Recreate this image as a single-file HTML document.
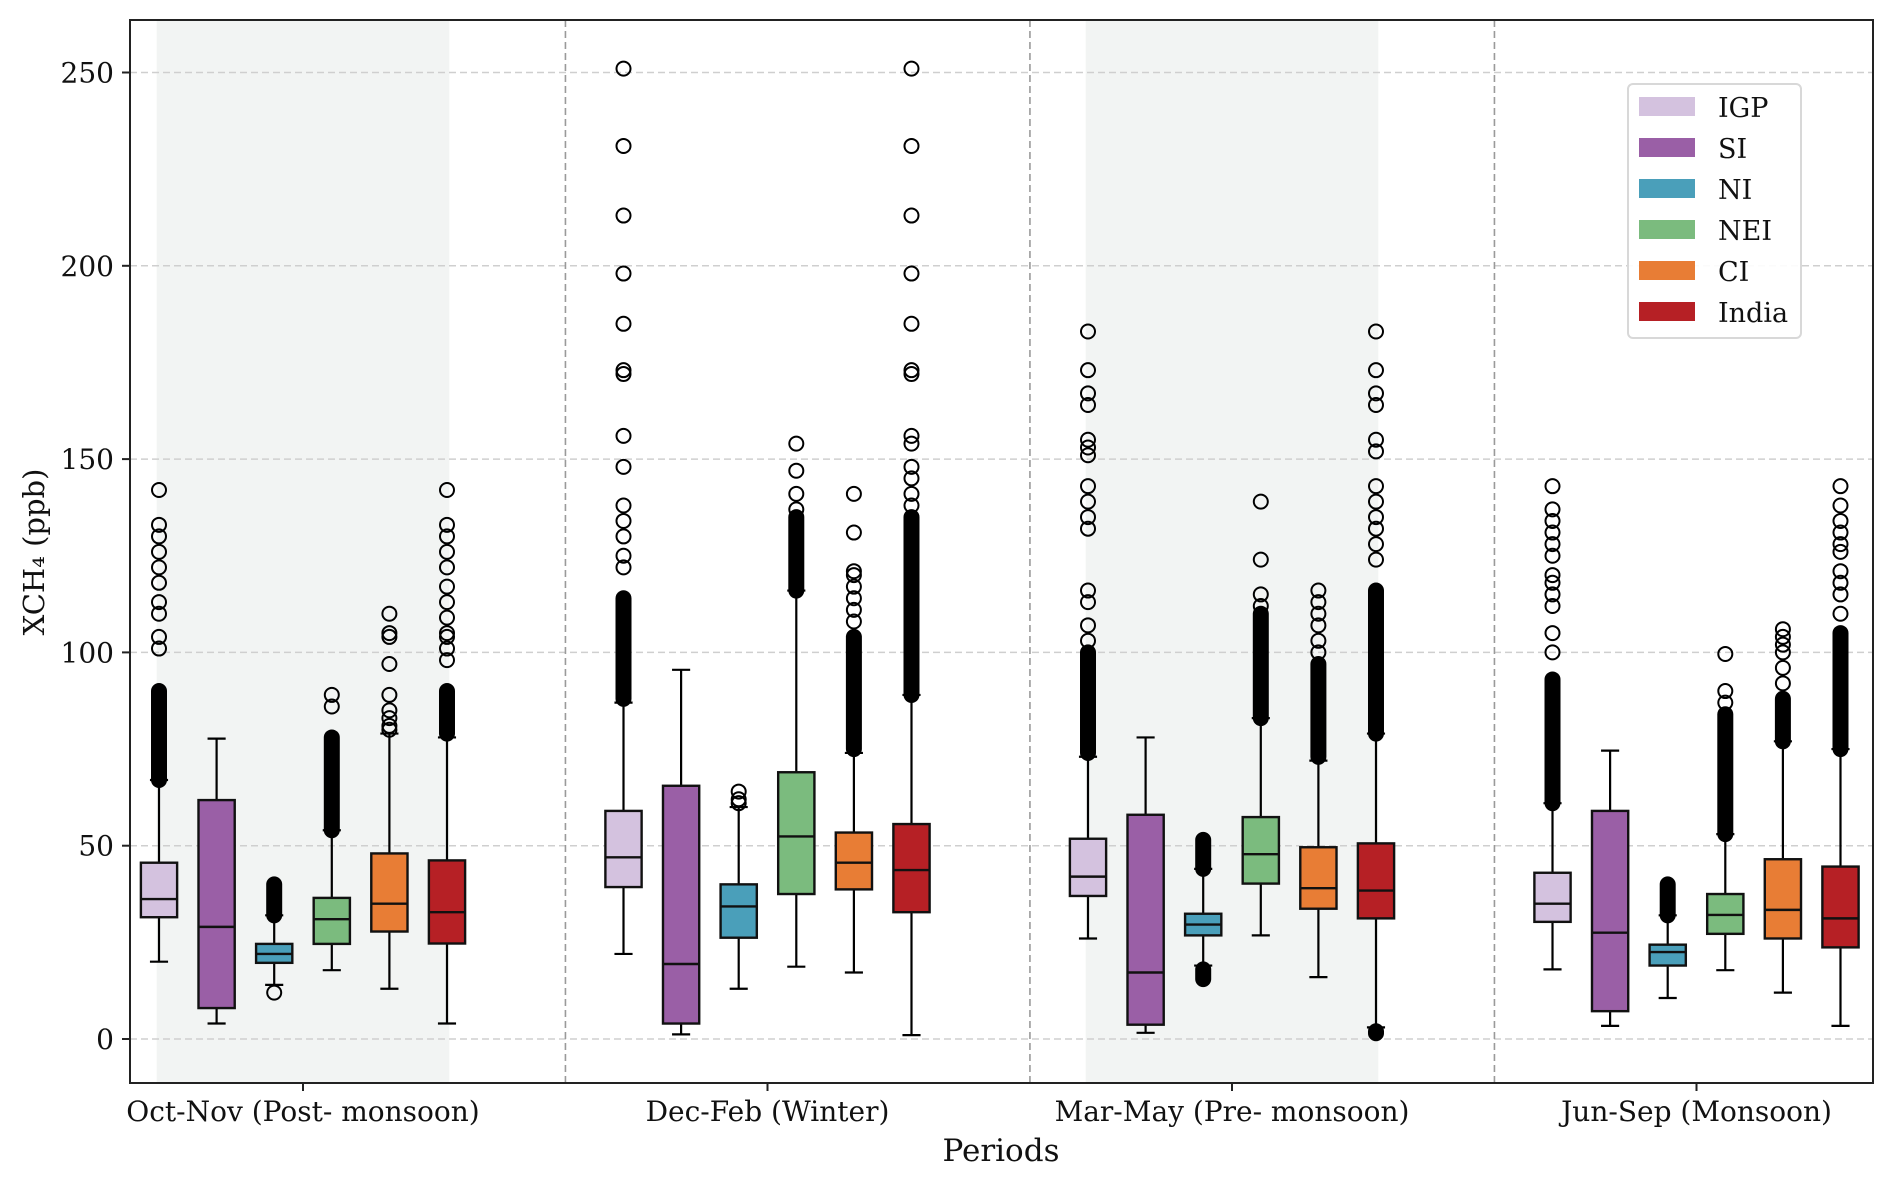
<!DOCTYPE html>
<html><head><meta charset="utf-8"><style>
html,body{margin:0;padding:0;background:#fff;}
svg{display:block;font-family:"DejaVu Serif","Liberation Serif",serif;}
</style></head><body>
<svg id="chart" width="1892" height="1181" viewBox="0 0 1892 1181"></svg>
<script>
const periods = ["Oct-Nov (Post- monsoon)","Dec-Feb (Winter)","Mar-May (Pre- monsoon)","Jun-Sep (Monsoon)"];
const regions = ["IGP","SI","NI","NEI","CI","India"];
const colors = ["#d4c2df","#9a5fa6","#4a9fba","#7bbb7e","#e87d35","#b62025"];
const yTicks = [0,50,100,150,200,250];
// [whislo, q1, median, q3, whishi] per period per region
const stats = [
 [[20,31.5,36.2,45.6,67],[4,8,29,61.8,77.7],[14,19.7,22,24.6,32],[17.8,24.6,31,36.5,54],[13,27.8,35,48,79],[4,24.7,32.8,46.2,78]],
 [[22,39.3,47,59,87],[1.2,4,19.4,65.5,95.5],[13,26.2,34.3,40,60],[18.7,37.5,52.4,69,116],[17.2,38.7,45.6,53.4,74],[1,32.8,43.7,55.6,89]],
 [[26,37,42,51.8,73],[1.6,3.7,17.2,58,78],[19,26.8,29.6,32.4,44],[26.8,40.2,47.8,57.4,83],[16,33.7,39,49.6,72],[3,31.2,38.4,50.6,79]],
 [[18,30.3,35,43,61],[3.4,7.2,27.5,59,74.6],[10.6,19,22.5,24.4,32],[17.8,27.2,32.1,37.5,53],[12,26,33.4,46.5,77],[3.4,23.7,31.2,44.6,75]]
];
// dense flier runs [from,to]
const flierRuns = [
 [[[67,90]],[],[[32,40]],[[54,78]],[],[[79,90]]],
 [[[88,114]],[],[],[[116,135]],[[75,104]],[[89,135]]],
 [[[74,100]],[],[[44,51.5],[15.5,18]],[[83,110]],[[73,97]],[[79,116],[1.5,2]]],
 [[[61,93]],[],[[32,40]],[[53,84]],[[77,88]],[[75,105]]]
];
// individual fliers
const fliers = [
 [[101,104,110,113,118,122,126,130,133,142],[],[12],[86,89],[80,81,83,85,89,97,104,105,110],[98,101,104,105,109,113,117,122,126,130,133,142]],
 [[122,125,130,134,138,148,156,172,173,185,198,213,231,251],[],[61,62,64],[137,141,147,154],[108,111,114,117,120,121,131,141],[138,141,145,148,154,156,172,173,185,198,213,231,251]],
 [[103,107,113,116,132,135,139,143,151,153,155,164,167,173,183],[],[],[112,115,124,139],[100,103,107,110,113,116],[124,128,132,135,139,143,152,155,164,167,173,183]],
 [[100,105,112,115,118,120,125,128,131,134,137,143],[],[],[87,90,99.6],[92,96,100,102,104,106],[110,115,118,121,126,128,131,134,138,143]]
];
const NS="http://www.w3.org/2000/svg";
const svg=document.getElementById('chart');
const L=130,R=1873,T=20,B=1083;
const y=v=>1039-v*3.866;
const x=u=>303+u*464.5;
function mk(tag,attrs,parent){const e=document.createElementNS(NS,tag);for(const k in attrs)e.setAttribute(k,attrs[k]);(parent||svg).appendChild(e);return e;}
// shading
[0,2].forEach(g=>{const r=mk('rect',{x:x(g-0.315),y:T,width:x(0.315)-x(-0.315),height:B-T,fill:'#f2f4f3'});

});
// grid
yTicks.forEach(t=>{const l=mk('line',{x1:L,x2:R,y1:y(t),y2:y(t),stroke:'#cfcfcf','stroke-width':1.5,'stroke-dasharray':'7,4'});

});
[0.565,1.565,2.565].forEach(d=>{const l=mk('line',{x1:x(d),x2:x(d),y1:T,y2:B,stroke:'#9a9a9a','stroke-width':1.6,'stroke-dasharray':'7,4'});

});
// boxes
const offs=[-0.31,-0.186,-0.062,0.062,0.186,0.31];
const hw=0.039, capw=0.0195, r=7;
periods.forEach((p,g)=>{regions.forEach((rg,i)=>{
 const c=x(g+offs[i]); const s=stats[g][i];
 const grp=mk('g',{});
 
 
 const bl=x(g+offs[i]-hw), bw=x(hw)-x(0), cw=x(capw)-x(0);
 mk('line',{x1:c,x2:c,y1:y(s[0]),y2:y(s[1]),stroke:'#000','stroke-width':2.2},grp);
 mk('line',{x1:c,x2:c,y1:y(s[3]),y2:y(s[4]),stroke:'#000','stroke-width':2.2},grp);
 mk('line',{x1:c-cw,x2:c+cw,y1:y(s[0]),y2:y(s[0]),stroke:'#000','stroke-width':2.2},grp);
 mk('line',{x1:c-cw,x2:c+cw,y1:y(s[4]),y2:y(s[4]),stroke:'#000','stroke-width':2.2},grp);
 mk('rect',{x:bl,y:y(s[3]),width:2*bw,height:y(s[1])-y(s[3]),fill:colors[i],stroke:'#111','stroke-width':2.4},grp);
 mk('line',{x1:bl,x2:bl+2*bw,y1:y(s[2]),y2:y(s[2]),stroke:'#111','stroke-width':2.4},grp);
 flierRuns[g][i].forEach(run=>{mk('rect',{x:c-r-1,y:y(run[1])-r-1,width:2*r+2,height:y(run[0])-y(run[1])+2*r+2,rx:r+1,fill:'#000'},grp);});
 fliers[g][i].forEach(v=>{mk('circle',{cx:c,cy:y(v),r:r,fill:'none',stroke:'#000','stroke-width':2},grp);});
});});
// frame
const fr=mk('rect',{x:L,y:T,width:R-L,height:B-T,fill:'none',stroke:'#222','stroke-width':2});


// y ticks
yTicks.forEach(t=>{mk('line',{x1:L-8,x2:L,y1:y(t),y2:y(t),stroke:'#222','stroke-width':2});
const tx=mk('text',{x:L-16,y:y(t)+10,'text-anchor':'end','font-size':28,fill:'#111'});tx.textContent=t;

});
periods.forEach((p,g)=>{mk('line',{x1:x(g),x2:x(g),y1:B,y2:B+8,stroke:'#222','stroke-width':2});
const tx=mk('text',{x:x(g),y:1121,'text-anchor':'middle','font-size':28,fill:'#111'});tx.textContent=p;

});
const xt=mk('text',{x:1001,y:1161,'text-anchor':'middle','font-size':31,fill:'#111'});xt.textContent='Periods';


const yt=mk('text',{x:0,y:0,'text-anchor':'middle','font-size':29,fill:'#111',transform:'translate(44,552) rotate(-90)'});yt.textContent='XCH₄ (ppb)';


// legend
const lg=mk('g',{});


mk('rect',{x:1628,y:84,width:173,height:254,rx:5,fill:'#fff','fill-opacity':0.9,stroke:'#d8d8d8','stroke-width':2},lg);
regions.forEach((rg,i)=>{const cy=107+i*41;
const e=mk('g',{},lg);


mk('rect',{x:1639,y:cy-10,width:56,height:19,fill:colors[i]},e);
const tx=mk('text',{x:1718,y:cy+10,'font-size':27,fill:'#111'},e);tx.textContent=rg;});
</script>
</body></html>
